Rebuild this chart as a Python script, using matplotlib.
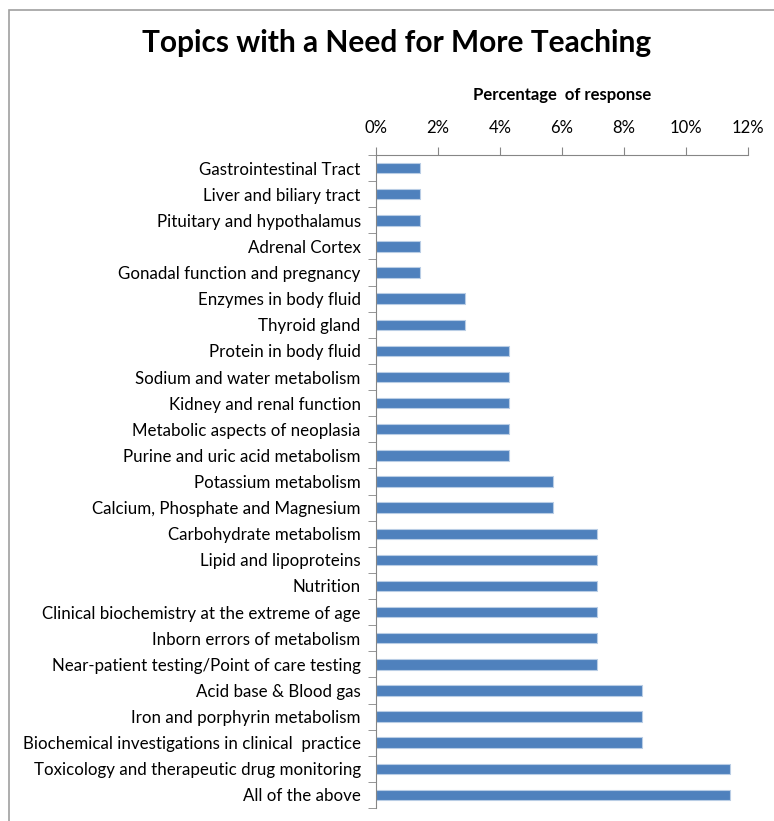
import numpy as np
import matplotlib
matplotlib.use('Agg')
import matplotlib.pyplot as plt
from matplotlib.ticker import PercentFormatter
from matplotlib.patches import Rectangle

plt.rcParams['font.family'] = ['Lato', 'DejaVu Sans']

# topics, top to bottom
topics = [
    'Gastrointestinal Tract',
    'Liver and biliary tract',
    'Pituitary and hypothalamus',
    'Adrenal Cortex',
    'Gonadal function and pregnancy',
    'Enzymes in body fluid',
    'Thyroid gland',
    'Protein in body fluid',
    'Sodium and water metabolism',
    'Kidney and renal function',
    'Metabolic aspects of neoplasia',
    'Purine and uric acid metabolism',
    'Potassium metabolism',
    'Calcium, Phosphate and Magnesium',
    'Carbohydrate metabolism',
    'Lipid and lipoproteins',
    'Nutrition',
    'Clinical biochemistry at the extreme of age',
    'Inborn errors of metabolism',
    'Near-patient testing/Point of care testing',
    'Acid base & Blood gas',
    'Iron and porphyrin metabolism',
    'Biochemical investigations in clinical  practice',
    'Toxicology and therapeutic drug monitoring',
    'All of the above',
]
# share of responses (fraction)
share = [0.0143, 0.0143, 0.0143, 0.0143, 0.0143,
         0.0286, 0.0286,
         0.0429, 0.0429, 0.0429, 0.0429, 0.0429,
         0.0571, 0.0571,
         0.0714, 0.0714, 0.0714, 0.0714, 0.0714, 0.0714,
         0.0857, 0.0857, 0.0857,
         0.1143, 0.1143]

W, H = 774, 821
fig = plt.figure(figsize=(W / 100, H / 100), dpi=100)
ax = fig.add_axes([376 / W, 1 - 808 / H, (748 - 376) / W, (808 - 155) / H])

y = np.arange(len(topics))
ax.barh(y, share, height=0.4, color='#4F81BD', edgecolor='#B9CDE5', linewidth=0.8)

ax.set_ylim(len(topics) - 0.5, -0.5)
ax.set_xlim(0, 0.12)
ax.set_xticks(np.arange(0, 0.121, 0.02))
ax.xaxis.set_major_formatter(PercentFormatter(1.0, decimals=0))
ax.xaxis.tick_top()
ax.xaxis.set_label_position('top')
ax.set_xlabel('Percentage  of response', fontsize=12, fontweight='bold', labelpad=14)

# category ticks sit between bars
ax.set_yticks(y)
ax.set_yticklabels(topics, fontsize=12.2)
ax.set_yticks(np.arange(len(topics) + 1) - 0.5, minor=True)
ax.tick_params(axis='y', which='major', length=0, pad=11)
ax.tick_params(axis='y', which='minor', length=6, color='#868686', direction='out')
ax.tick_params(axis='x', length=6, color='#868686', direction='out', labelsize=12, pad=8)

for s in ['right', 'bottom']:
    ax.spines[s].set_visible(False)
for s in ['left', 'top']:
    ax.spines[s].set_color('#868686')

fig.text(397 / W, 1 - 43 / H, 'Topics with a Need for More Teaching',
         ha='center', va='center', fontsize=21.5, fontweight='bold')

# chart border
fig.patches.append(Rectangle((9 / W, -0.1), 1.2, 1.1 - 10 / H, transform=fig.transFigure,
                             fill=False, edgecolor='#A0A0A0', linewidth=1.2))

fig.savefig('out.png', dpi=100)
